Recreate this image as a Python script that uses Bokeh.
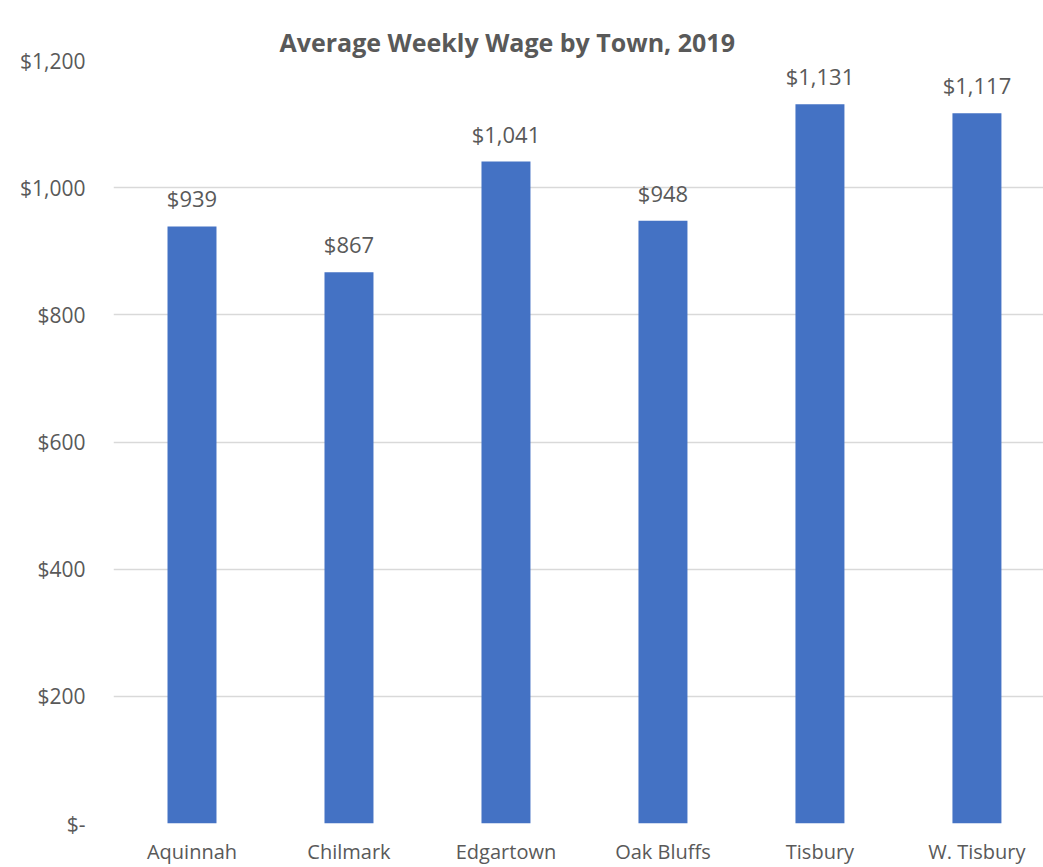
from bokeh.plotting import figure
from bokeh.models import ColumnDataSource, Range1d, FixedTicker, NumeralTickFormatter, Title
from bokeh.core.properties import value
from bokeh.embed import file_html
from bokeh.resources import INLINE

towns = ["Aquinnah", "Chilmark", "Edgartown", "Oak Bluffs", "Tisbury", "W. Tisbury"]
wages = [939, 867, 1041, 948, 1131, 1117]
y_ticks = [0, 200, 400, 600, 800, 1000, 1200]
title_text = "Average Weekly Wage by Town, 2019"

FONT = "Open Sans"
TXT = "#595959"

xpos = [i + 0.5 for i in range(len(towns))]
labels = ["${:,}".format(w) for w in wages]
src = ColumnDataSource(dict(x=xpos, y=wages, label=labels))

p = figure(width=1043, height=867, output_backend="svg", toolbar_location=None,
           x_range=Range1d(0, 5.924), y_range=Range1d(0, 1200),
           min_border_left=113, min_border_right=0, min_border_top=60, min_border_bottom=44,
           title=None)
p.outline_line_color = None
p.background_fill_color = "white"

# spacer panel between frame and title (invisible)
spacer = Title(text=" ", text_font_size="1px", standoff=20, text_alpha=0)
p.add_layout(spacer, "above")

main_title = Title(text=title_text, align="left", offset=166, vertical_align="top",
                   standoff=0, text_font=FONT, text_font_style="bold",
                   text_font_size="25px", text_line_height=1.0, text_color=TXT)
p.add_layout(main_title, "above")

p.vbar(x="x", top="y", width=0.312, bottom=0, source=src, fill_color="#4472C4", line_color=None)
p.text(x="x", y="y", text="label", source=src, text_align="center", text_baseline="alphabetic",
       y_offset=-28, text_font=value(FONT), text_font_size="22px", text_color=TXT)

p.xaxis.ticker = FixedTicker(ticks=xpos)
p.xaxis.major_label_overrides = {x: t for x, t in zip(xpos, towns)}
p.yaxis.ticker = FixedTicker(ticks=y_ticks)
p.yaxis.formatter = NumeralTickFormatter(format="$0,0")
p.yaxis.major_label_overrides = {0: "$-"}

for ax in (p.xaxis[0], p.yaxis[0]):
    ax.axis_line_color = None
    ax.major_tick_line_color = None
    ax.minor_tick_line_color = None
    ax.major_tick_out = 0
    ax.major_tick_in = 0
    ax.major_label_text_font = FONT
    ax.major_label_text_color = TXT
p.xaxis.major_label_text_font_size = "20px"
p.yaxis.major_label_text_font_size = "21px"
p.xaxis.major_label_standoff = 14
p.yaxis.major_label_standoff = 28

p.xgrid.grid_line_color = None
p.ygrid.grid_line_color = "#D9D9D9"
p.ygrid.grid_line_width = 1.3
p.ygrid.ticker = FixedTicker(ticks=y_ticks)

open("out.html", "w").write(file_html(p, INLINE))
